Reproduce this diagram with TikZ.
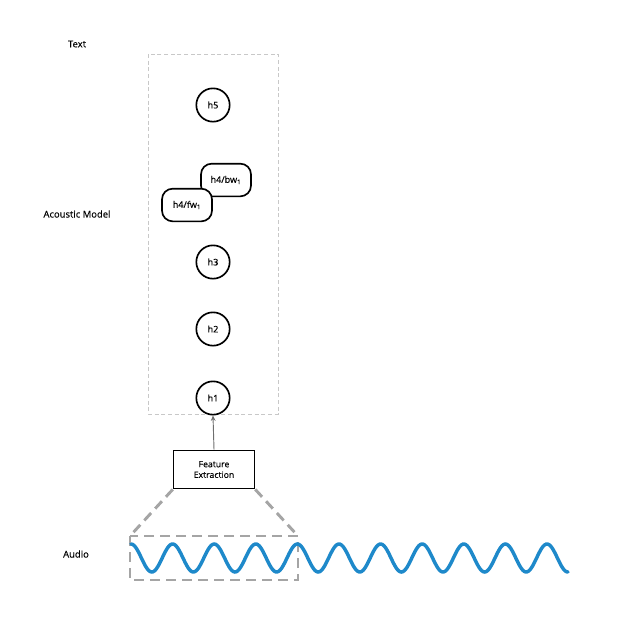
\documentclass[tikz,border=0pt]{standalone}
\usepackage{fontspec}
\setmainfont{Open Sans}[FakeBold=0.35]
\usetikzlibrary{arrows.meta}

\definecolor{boxgray}{RGB}{200,200,200}
\definecolor{zoomgray}{RGB}{165,165,165}
\definecolor{wavecol}{RGB}{30,137,202}
\definecolor{arrowgray}{RGB}{110,110,110}

\tikzset{
  lbl/.style={inner sep=0.75pt, font=\fontsize{7.1}{8}\selectfont},
  hstate/.style={circle, draw, line width=1.25pt, minimum size=25pt, inner sep=0pt, fill=white, font=\fontsize{6.8}{8}\selectfont},
  hsplit/.style={rounded corners=8pt, draw, line width=1.25pt, fill=white, minimum width=37.5pt, minimum height=24.5pt, inner sep=0pt, font=\fontsize{6.8}{8}\selectfont},
  featbox/.style={draw, line width=0.9pt, minimum width=61pt, minimum height=29pt, inner sep=0pt, align=center, font=\fontsize{6.5}{8}\selectfont},
}

\begin{document}
\begin{tikzpicture}[x=0.75pt,y=0.75pt,yscale=-1,xscale=1]
\useasboundingbox (0,0) rectangle (620,640);

%Shape: Rectangle (acoustic model frame)
\draw [color=boxgray, line width=0.6pt, dash pattern=on 3pt off 2pt] (148,54) rectangle (278,414);

% Hidden states
\node [hstate] (h5) at (213,105) {h5};
\node [hsplit] (h4bw) at (226,180) {h4/bw\textsubscript{1}};
\node [hsplit] (h4fw) at (187,205) {h4/fw\textsubscript{1}};
\node [hstate] (h3) at (213,262) {h3};
\node [hstate] (h2) at (213,329) {h2};
\node [hstate] (h1) at (213,398) {h1};

% Feature extraction
\node [featbox] (feat) at (214,469.5) {Feature\\Extraction};
\draw [-{Stealth[length=4pt,width=3.5pt]}, color=arrowgray, line width=0.7pt] (feat.north) -- (h1.south);

%Shape: zoom window on the audio
\coordinate (zl) at (130,536);
\coordinate (zr) at (298,536);
\draw [color=zoomgray, line width=2.2pt, dash pattern=on 7.5pt off 4.5pt] (feat.south west) -- (zl);
\draw [color=zoomgray, line width=2.2pt, dash pattern=on 7.5pt off 4.5pt] (feat.south east) -- (zr);
\draw [color=zoomgray, line width=2.2pt, dash pattern=on 7.5pt off 4.5pt] (zl) rectangle (298,580);

%Curve: audio wave
\draw [color=wavecol, line width=2.6pt, line cap=round] plot[domain=131:568, samples=300, smooth] (\x, {558-14*cos((\x-131)/41.6*360)});

% Text Node
\node [lbl] (text) at (77,44) {Text};
% Text Node
\node [lbl] (am) at (77,214) {Acoustic Model};
% Text Node
\node [lbl] (audio) at (76,554) {Audio};

\end{tikzpicture}
\end{document}
